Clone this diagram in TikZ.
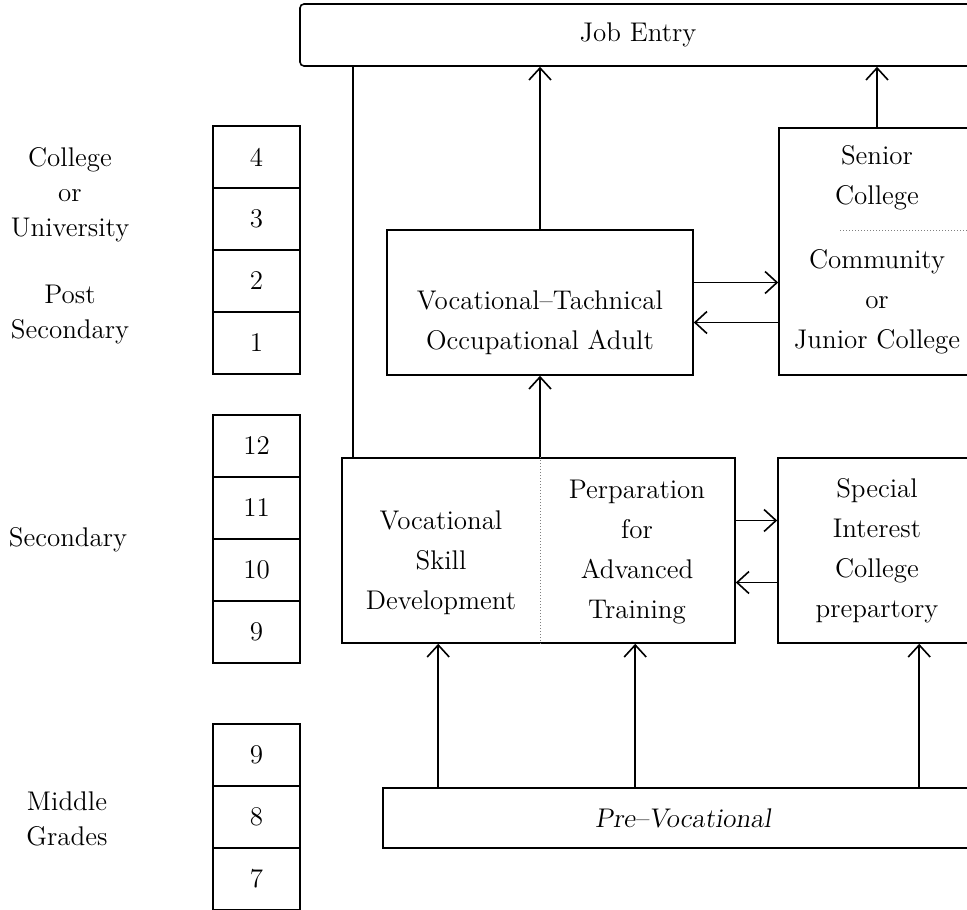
\documentclass[tikz,border=0pt]{standalone}
\usepackage{tikz}
\usetikzlibrary{arrows.meta, positioning, calc}
\tikzset{
  box/.style={rectangle, draw, line width=0.8pt, inner sep=0pt, align=center, font=\fontsize{13.5}{20}\selectfont},
  yearbox/.style={box, minimum width=43.5pt, minimum height=31pt},
  stagelabel/.style={align=center, font=\fontsize{13.5}{17.5}\selectfont},
  boxtext/.style={align=center, inner sep=0pt, font=\fontsize{13.5}{20}\selectfont},
  arrow/.style={-{Straight Barb[length=6pt, width=11pt]}, line width=0.8pt},
  plainline/.style={line width=0.8pt},
  divider/.style={densely dotted, gray, line width=0.5pt}
}

\begin{document}
\begin{tikzpicture}[x=0.5pt, y=-0.5pt]
  \useasboundingbox (0,0) rectangle (967,909);
  \clip (0,0) rectangle (967,909);

  % grade columns
  \foreach \n [count=\i] in {4,3,2,1}
    \node[yearbox] (upper\n) at (256.5, 95+62*\i) {\n};
  \foreach \n [count=\i] in {12,11,10,9}
    \node[yearbox] (sec\n) at (256.5, 384+62*\i) {\n};
  \foreach \n [count=\i] in {9,8,7}
    \node[yearbox] (mid\n) at (256.5, 693+62*\i) {\n};

  \node[stagelabel] (college) at (70,195) {College\\or\\University};
  \node[stagelabel] (postsec) at (70,315) {Post\\Secondary};
  \node[stagelabel] (secondary) at (68,540) {Secondary};
  \node[stagelabel] (middle) at (67,819) {Middle\\Grades};

  % main boxes
  \node[box, rounded corners=2pt, minimum width=350pt, minimum height=31pt,
        label={[boxtext, xshift=-6pt]center:Job Entry}] (job) at (650,35) {};
  \node[box, minimum width=153pt, minimum height=72.5pt,
        label={[boxtext, yshift=-10pt]center:Vocational--Tachnical\\Occupational Adult}] (vt) at (540,302.5) {};
  \node[box, minimum width=98pt, minimum height=123.5pt] (coll) at (877,251.5) {};
  \node[boxtext] (senior) at (877,178) {Senior\\College};
  \node[boxtext] (junior) at (877,302) {Community\\or\\Junior College};
  \draw[divider] (840,230) -- (coll.east |- 0,230);

  \node[box, minimum width=196.5pt, minimum height=92.5pt] (skill) at (538.5,550.5) {};
  \draw[divider] (540,0 |- skill.north) -- (540,0 |- skill.south);
  \node[boxtext] (skilltxt) at (441,563) {Vocational\\Skill\\Development};
  \node[boxtext] (preptxt) at (637,552) {Perparation\\for\\Advanced\\Training};
  \node[box, minimum width=99pt, minimum height=92.5pt] (spec) at (877,550.5) {Special\\Interest\\College\\prepartory};

  \node[box, minimum width=300pt, minimum height=30pt] (pre) at (683,818) {\slshape Pre--Vocational};

  % connectors
  \draw[arrow] (vt.north) -- (vt.north |- job.south);
  \draw[arrow] (coll.north) -- (coll.north |- job.south);
  \draw[arrow] ([yshift=10pt]vt.east) -- ([yshift=10pt]vt.east -| coll.west);
  \draw[arrow] ([yshift=-10pt]vt.east -| coll.west) -- ([yshift=-10pt]vt.east);
  \draw[plainline] ([xshift=6pt]skill.north west) -- ([xshift=6pt]skill.north west |- job.south);
  \draw[arrow] (vt.south |- skill.north) -- (vt.south);
  \draw[arrow] ([yshift=15pt]skill.east) -- ([yshift=15pt]skill.east -| spec.west);
  \draw[arrow] ([yshift=-16pt]skill.east -| spec.west) -- ([yshift=-16pt]skill.east);
  \foreach \dx/\dest in {28/skill, 126.5/skill, 268.5/spec}
    \draw[arrow] ([xshift=\dx pt]pre.north west) -- ([xshift=\dx pt]pre.north west |- \dest.south);
\end{tikzpicture}
\end{document}
